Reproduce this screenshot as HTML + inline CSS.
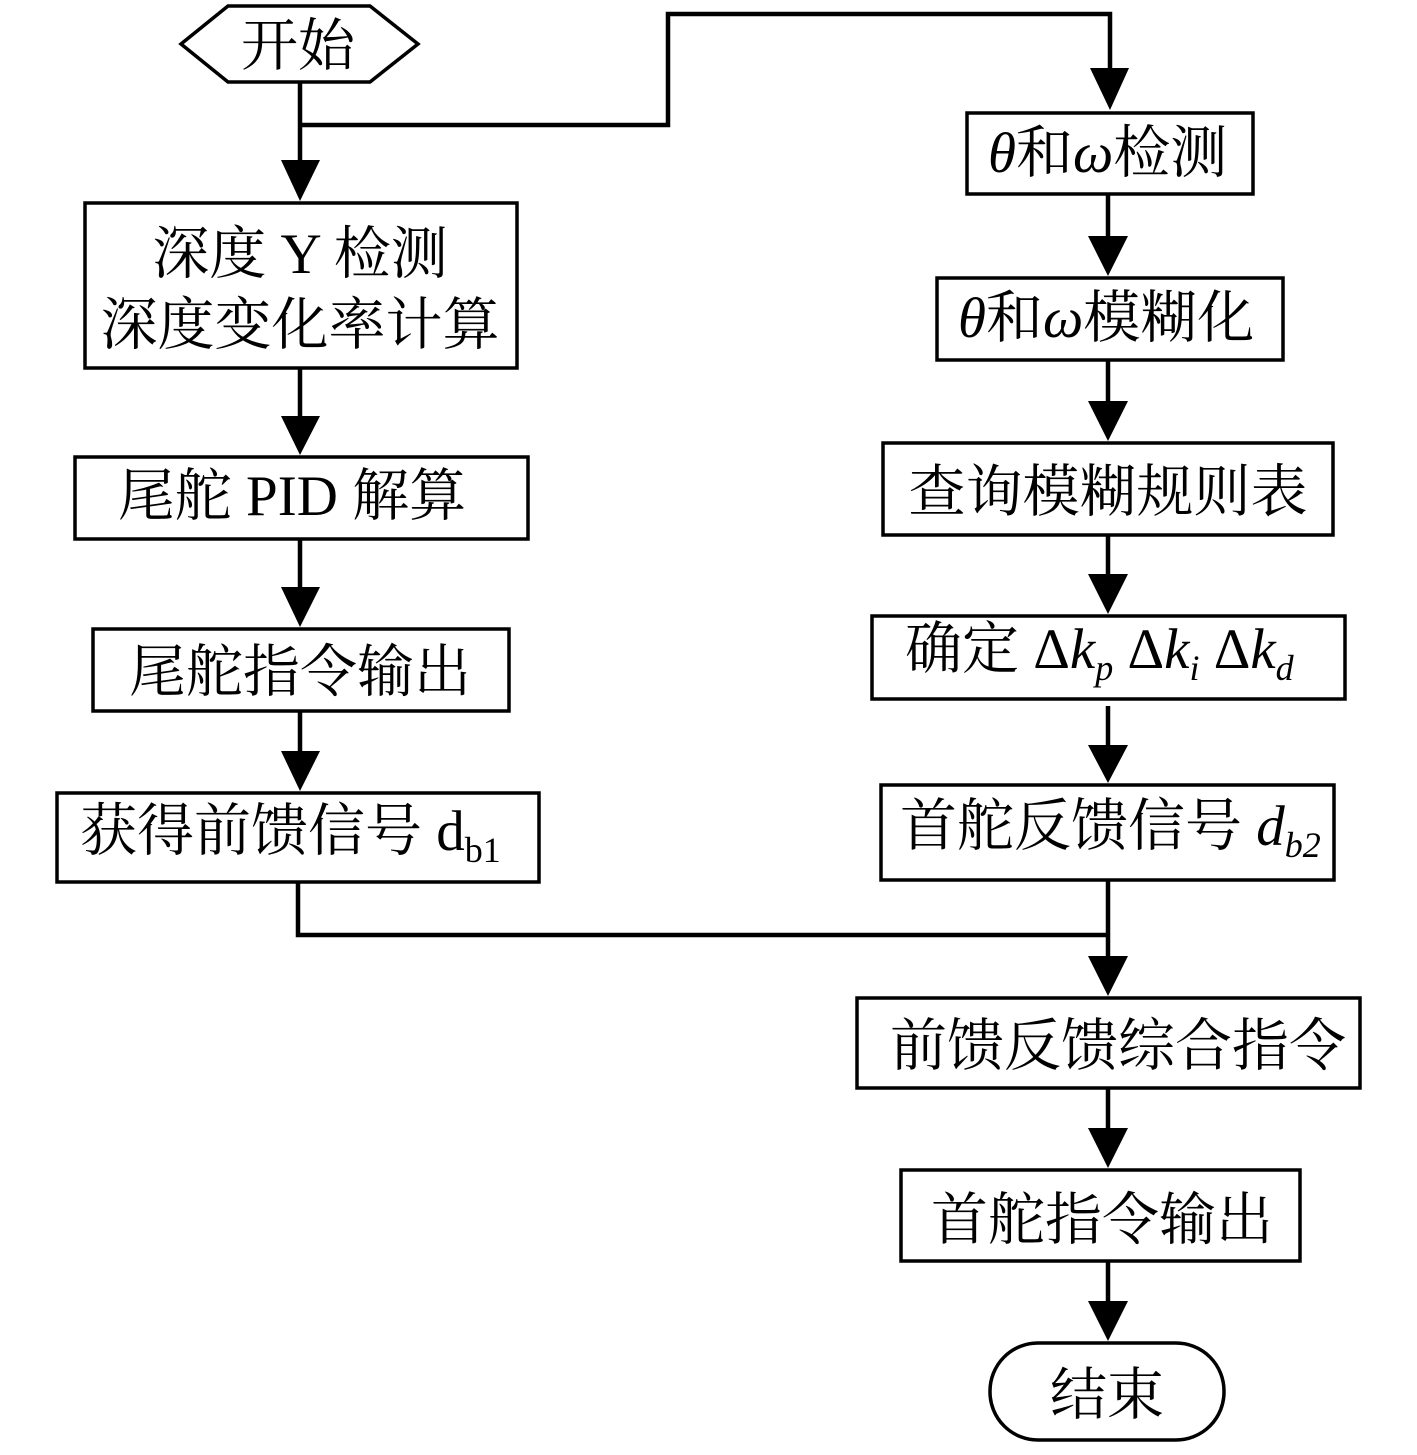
<!DOCTYPE html>
<html><head><meta charset="utf-8"><style>
html,body{margin:0;padding:0;background:#fff;}
svg{display:block;}
text{font-family:"Liberation Serif","Noto Serif CJK SC",serif;font-size:57px;fill:#000;}
</style></head><body>
<svg width="1417" height="1455" viewBox="0 0 1417 1455" xmlns="http://www.w3.org/2000/svg">
<g fill="none" stroke="#000" stroke-width="3.5">
<polygon points="181,44 228,6 370,6 418,44 370,82 228,82"/>
<rect x="85" y="203" width="432" height="165"/>
<rect x="75" y="457" width="453" height="82"/>
<rect x="93" y="629" width="416" height="82"/>
<rect x="57" y="793" width="482" height="89"/>
<rect x="967" y="113" width="286" height="81"/>
<rect x="937" y="278" width="346" height="82"/>
<rect x="883" y="443" width="450" height="92"/>
<rect x="872" y="616" width="473" height="83"/>
<rect x="881" y="785" width="453" height="95"/>
<rect x="857" y="998" width="503" height="90"/>
<rect x="901" y="1170" width="399" height="91"/>
<rect x="990" y="1343" width="234" height="97" rx="48"/>
</g>
<g fill="none" stroke="#000" stroke-width="4.5">
<path d="M300,82 V165"/>
<path d="M300,125 H668 V14 H1110 V70"/>
<path d="M300,368 V420"/>
<path d="M300,539 V590"/>
<path d="M300,711 V755"/>
<path d="M298,882 V935 H1108"/>
<path d="M1108,194 V240"/>
<path d="M1108,360 V405"/>
<path d="M1108,535 V578"/>
<path d="M1108,706 V748"/>
<path d="M1108,880 V960"/>
<path d="M1108,1088 V1132"/>
<path d="M1108,1261 V1305"/>
</g>
<g fill="#000">
<polygon points="281,160 320,160 300,201"/>
<polygon points="281,416 320,416 300,455"/>
<polygon points="281,587 320,587 300,627"/>
<polygon points="281,751 320,751 300,791"/>
<polygon points="1090,68 1129,68 1110,110"/>
<polygon points="1088,236 1128,236 1108,276"/>
<polygon points="1088,401 1128,401 1108,441"/>
<polygon points="1088,574 1128,574 1108,614"/>
<polygon points="1088,745 1128,745 1108,783"/>
<polygon points="1088,956 1128,956 1108,996"/>
<polygon points="1088,1128 1128,1128 1108,1168"/>
<polygon points="1088,1301 1128,1301 1108,1341"/>
</g>
<g text-anchor="middle">
<text x="298" y="65">开始</text>
<text x="300" y="273">深度 Y 检测</text>
<text x="300" y="344">深度变化率计算</text>
<text x="292" y="515">尾舵 PID 解算</text>
<text x="300" y="691">尾舵指令输出</text>
<text x="1118" y="1065">前馈反馈综合指令</text>
<text x="1102" y="1239">首舵指令输出</text>
<text x="1107" y="1414">结束</text>
<text x="1108" y="511">查询模糊规则表</text>
</g>
<text x="80" y="850">获得前馈信号 d<tspan font-size="36" dy="12">b1</tspan></text>
<text x="988" y="172"><tspan font-style="italic">θ</tspan>和<tspan font-style="italic">ω</tspan>检测</text>
<text x="958" y="337"><tspan font-style="italic">θ</tspan>和<tspan font-style="italic">ω</tspan>模糊化</text>
<text x="905" y="668">确定 Δ<tspan font-style="italic">k</tspan><tspan font-style="italic" font-size="36" dy="12">p</tspan><tspan dy="-12"> Δ</tspan><tspan font-style="italic">k</tspan><tspan font-style="italic" font-size="36" dy="12">i</tspan><tspan dy="-12"> Δ</tspan><tspan font-style="italic">k</tspan><tspan font-style="italic" font-size="36" dy="12">d</tspan></text>
<text x="900" y="845">首舵反馈信号 <tspan font-style="italic">d</tspan><tspan font-style="italic" font-size="36" dy="12">b2</tspan></text>
</svg>
</body></html>
